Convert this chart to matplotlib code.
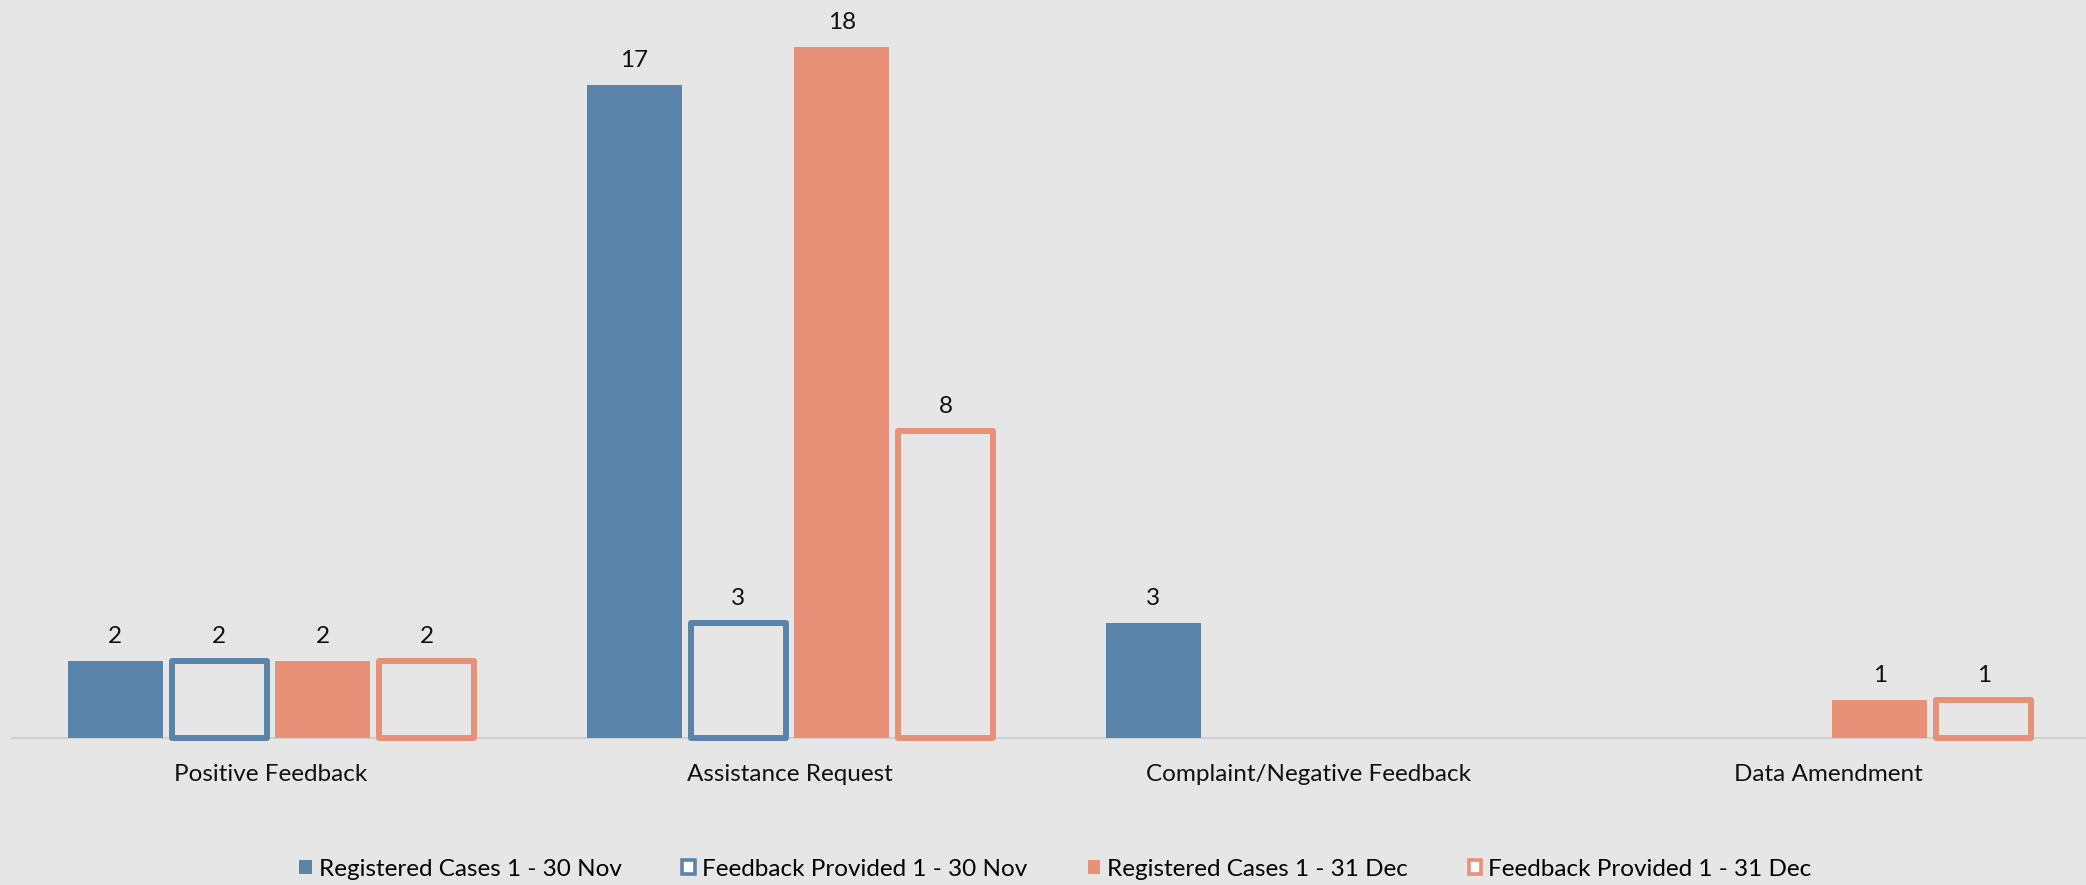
import matplotlib
matplotlib.use("Agg")
import matplotlib.pyplot as plt
from matplotlib.patches import Patch
import numpy as np

categories = ["Positive Feedback", "Assistance Request",
              "Complaint/Negative Feedback", "Data Amendment"]
series_names = ["Registered Cases 1 - 30 Nov", "Feedback Provided 1 - 30 Nov",
                "Registered Cases 1 - 31 Dec", "Feedback Provided 1 - 31 Dec"]
registered_nov = [2, 17, 3, 0]
feedback_nov = [2, 3, 0, 0]
registered_dec = [2, 18, 0, 1]
feedback_dec = [2, 8, 0, 1]

BLUE = "#5B84AB"
ORANGE = "#E79178"
BG = "#E6E6E6"
FS = 17.5

plt.rcParams["font.family"] = ["Lato", "DejaVu Sans"]

fig = plt.figure(figsize=(20.86, 8.85), dpi=100, facecolor=BG)
ax = fig.add_axes([11.5 / 2086, 147 / 885, 2076 / 2086, 738 / 885])
ax.set_facecolor(BG)

x = np.arange(len(categories))
pitch = 0.2
width = 0.183
series = [
    (registered_nov, BLUE, True),
    (feedback_nov, BLUE, False),
    (registered_dec, ORANGE, True),
    (feedback_dec, ORANGE, False),
]

for i, (vals, color, filled) in enumerate(series):
    off = (i - 1.5) * pitch
    if filled:
        bars = ax.bar(x + off, vals, width, color=color, zorder=3)
    else:
        bars = ax.bar(x + off, vals, width, facecolor="none", edgecolor=color,
                      linewidth=4.3, joinstyle="round", zorder=3, clip_on=False)
    for b, v in zip(bars, vals):
        if v == 0:
            b.set_visible(False)
    labels = [str(v) if v else "" for v in vals]
    ax.bar_label(bars, labels=labels, padding=10, fontsize=FS, color="#111111")

ax.set_xlim(-0.5, 3.5)
ax.set_ylim(0, 19.22)
ax.set_xticks(x)
ax.set_xticklabels(categories, fontsize=FS, color="#111111")
ax.tick_params(axis="x", length=0, pad=18.5)
ax.set_yticks([])
for s in ["top", "right", "left"]:
    ax.spines[s].set_visible(False)
ax.spines["bottom"].set_color("#D0D0D0")
ax.spines["bottom"].set_linewidth(1.5)
ax.spines["bottom"].set_zorder(1)

handles = [
    Patch(facecolor=BLUE, edgecolor=BLUE, linewidth=0),
    Patch(facecolor="white", edgecolor=BLUE, linewidth=2.6),
    Patch(facecolor=ORANGE, edgecolor=ORANGE, linewidth=0),
    Patch(facecolor="white", edgecolor=ORANGE, linewidth=2.6),
]
fig.legend(handles, series_names, loc="center", bbox_to_anchor=(0.506, 0.018),
           ncol=4, frameon=False, fontsize=FS, handlelength=0.5,
           handleheight=0.5, handletextpad=0.3, columnspacing=2.5)

fig.savefig("out.png", dpi=100, facecolor=BG)
